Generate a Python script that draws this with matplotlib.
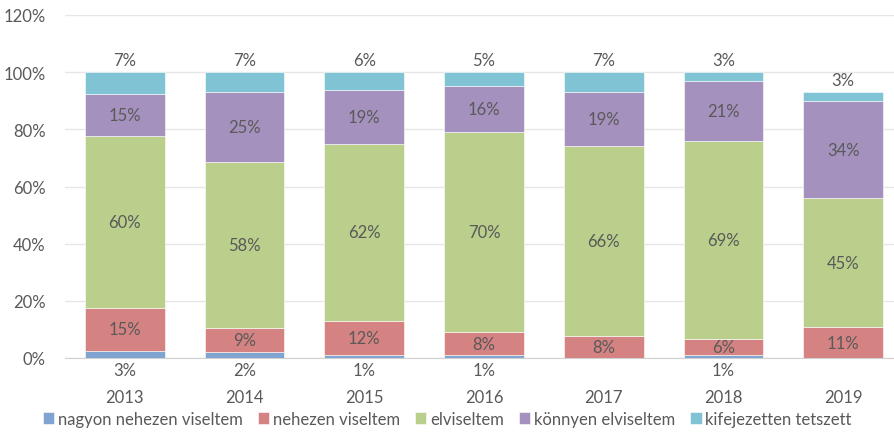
import numpy as np
import matplotlib.pyplot as plt
from matplotlib.ticker import PercentFormatter

plt.rcParams['font.family'] = ['Lato', 'DejaVu Sans']

years = ['2013', '2014', '2015', '2016', '2017', '2018', '2019']
series_names = ['nagyon nehezen viseltem', 'nehezen viseltem', 'elviseltem',
                'könnyen elviseltem', 'kifejezetten tetszett']
nagyon_nehezen = [2.6, 2.0, 1.0, 0.9, 0.0, 0.9, 0.0]
nehezen = [14.9, 8.6, 12.0, 8.2, 7.7, 5.7, 10.8]
elviseltem = [60.1, 57.9, 61.9, 69.9, 66.3, 69.4, 45.2]
konnyen = [14.9, 24.7, 19.0, 16.0, 18.9, 21.0, 33.8]
tetszett = [7.4, 6.8, 6.1, 5.0, 7.1, 3.0, 3.2]

colors = ['#7FA4D0', '#D58282', '#B9CF8B', '#A591BE', '#80C3D4']
txt = '#595959'
fs = 12

data = [nagyon_nehezen, nehezen, elviseltem, konnyen, tetszett]
x = np.arange(len(years))

fig = plt.figure(figsize=(8.94, 4.35), dpi=100)
ax = fig.add_axes([65 / 894, 76 / 435, 838 / 894, 343 / 435])

bottom = np.zeros(len(years))
for i, (vals, name, c) in enumerate(zip(data, series_names, colors)):
    vals = np.array(vals)
    ax.bar(x, vals, 0.667, bottom=bottom, color=c, label=name,
           edgecolor='white', linewidth=0.4, zorder=3)
    for j, v in enumerate(vals):
        lab = round(v)
        if lab == 0:
            continue
        if i == 0:
            ax.annotate(f'{lab}%', (x[j], 0), xytext=(0, -3), textcoords='offset points',
                        ha='center', va='top', fontsize=fs, color=txt)
        elif i == len(data) - 1:
            ax.annotate(f'{lab}%', (x[j], bottom[j] + v), xytext=(0, 3), textcoords='offset points',
                        ha='center', va='bottom', fontsize=fs, color=txt)
        else:
            ax.text(x[j], bottom[j] + v / 2, f'{lab}%', ha='center', va='center',
                    fontsize=fs, color=txt, zorder=4)
    bottom += vals

ax.set_xlim(-0.5, 6.5)
ax.set_ylim(0, 120)
ax.set_yticks(np.arange(0, 121, 20))
ax.yaxis.set_major_formatter(PercentFormatter(decimals=0))
ax.set_xticks(x)
ax.set_xticklabels(years)
ax.tick_params(axis='both', length=0, labelsize=fs, colors=txt)
ax.tick_params(axis='x', pad=22)
ax.tick_params(axis='y', pad=14)
ax.grid(axis='y', color='#E6E6E6', linewidth=1, zorder=0)
for s in ['top', 'right', 'left']:
    ax.spines[s].set_visible(False)
ax.spines['bottom'].set_color('#D0D0D0')

leg = fig.legend(loc='center', bbox_to_anchor=(0.5, 15 / 435), ncol=5, frameon=False,
                 fontsize=fs, handlelength=0.7, handleheight=0.7, handletextpad=0.2,
                 columnspacing=0.9)
for t in leg.get_texts():
    t.set_color(txt)

fig.savefig('out.png', dpi=100)
